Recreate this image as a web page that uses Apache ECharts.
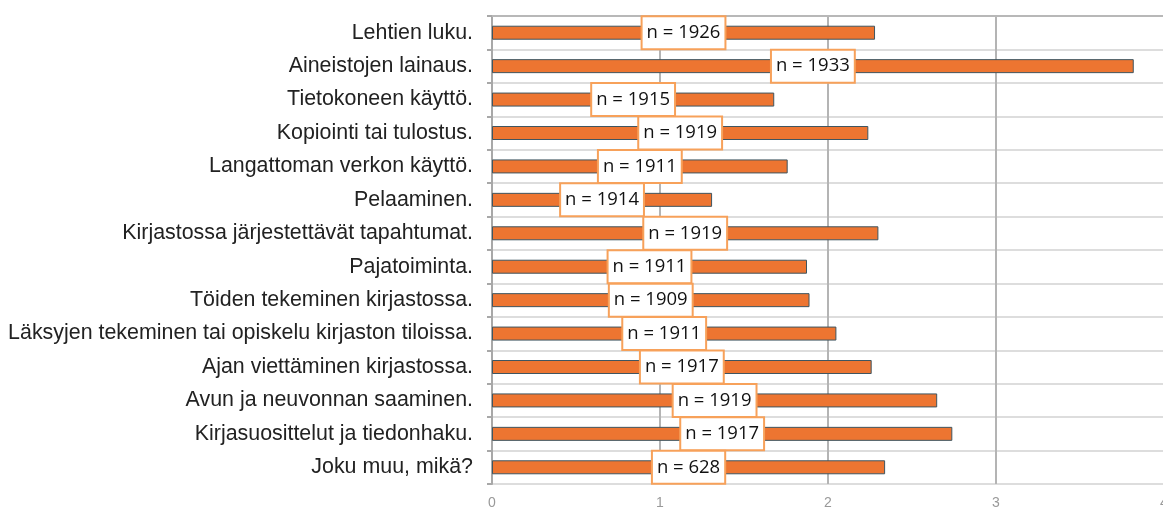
<!DOCTYPE html>
<html>
<head>
<meta charset="utf-8">
<script src="https://cdn.jsdelivr.net/npm/echarts@6/dist/echarts.min.js"></script>
<style>
  html, body { margin: 0; padding: 0; background: #fff; }
  #chart { width: 1163px; height: 507px; }
</style>
</head>
<body>
<div id="chart"></div>
<script>
const categories = [
  'Lehtien luku.',
  'Aineistojen lainaus.',
  'Tietokoneen käyttö.',
  'Kopiointi tai tulostus.',
  'Langattoman verkon käyttö.',
  'Pelaaminen.',
  'Kirjastossa järjestettävät tapahtumat.',
  'Pajatoiminta.',
  'Töiden tekeminen kirjastossa.',
  'Läksyjen tekeminen tai opiskelu kirjaston tiloissa.',
  'Ajan viettäminen kirjastossa.',
  'Avun ja neuvonnan saaminen.',
  'Kirjasuosittelut ja tiedonhaku.',
  'Joku muu, mikä?'
]
const values = [2.28, 3.82, 1.68, 2.24, 1.76, 1.31, 2.30, 1.875, 1.89, 2.05, 2.26, 2.65, 2.74, 2.34]
const counts = [1926, 1933, 1915, 1919, 1911, 1914, 1919, 1911, 1909, 1911, 1917, 1919, 1917, 628]
const xTicks = [0, 1, 2, 3, 4]

const chart = echarts.init(document.getElementById('chart'))

chart.setOption({
  animation: false,
  grid: { left: 492, right: -1, top: 16, bottom: 23, outerBoundsMode: 'none' },
  xAxis: [
    {
      type: 'value',
      min: xTicks[0],
      max: xTicks[xTicks.length - 1],
      interval: 1,
      axisLine: { show: false },
      axisTick: { show: false },
      axisLabel: { color: '#999', fontSize: 14, fontFamily: 'Liberation Sans', margin: 12 },
      splitLine: { lineStyle: { color: '#b4b4b4', width: 2 } }
    },
    {
      type: 'value',
      position: 'top',
      min: xTicks[0],
      max: xTicks[xTicks.length - 1],
      axisLine: { show: true, lineStyle: { color: '#b8b8b8', width: 2 } },
      axisTick: { show: false },
      axisLabel: { show: false },
      splitLine: { show: false }
    }
  ],
  yAxis: {
    type: 'category',
    data: categories,
    inverse: true,
    axisLine: { lineStyle: { color: '#a8a8a8', width: 2 } },
    axisTick: { show: true, length: 5, lineStyle: { color: '#a8a8a8', width: 2 } },
    axisLabel: { color: '#222', fontSize: 21.4, fontFamily: 'Liberation Sans', margin: 19 },
    splitLine: { show: true, lineStyle: { color: '#dddddd', width: 2 } }
  },
  series: [{
    type: 'bar',
    data: values,
    barWidth: 14,
    itemStyle: { color: '#ED7531', borderColor: '#3f5560', borderWidth: 1 },
    label: {
      show: true,
      position: 'inside',
      formatter: p => 'n = ' + counts[p.dataIndex],
      color: '#111',
      fontSize: 18.5,
      lineHeight: 20,
      fontFamily: 'Open Sans',
      backgroundColor: '#fff',
      borderColor: '#F7A15A',
      borderWidth: 2,
      padding: [6, 4, 5, 4]
    }
  }]
})
</script>
</body>
</html>
